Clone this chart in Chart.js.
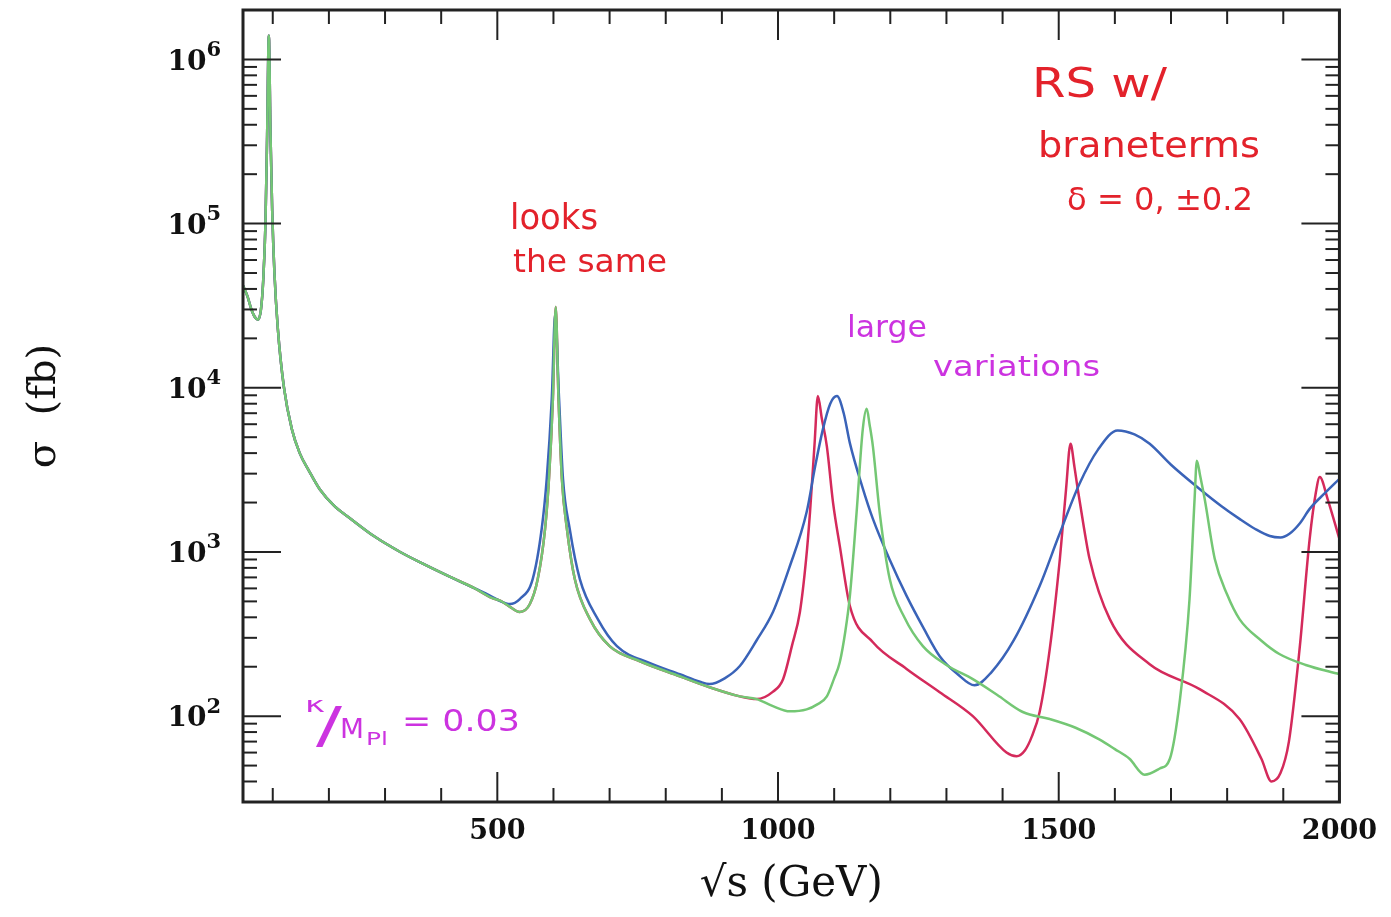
<!DOCTYPE html>
<html>
<head>
<meta charset="utf-8">
<title>RS w/ brane terms</title>
<script src="https://cdn.jsdelivr.net/npm/chart.js@4.4.1/dist/chart.umd.min.js"></script>
<style>
  html, body { margin: 0; padding: 0; background: #fff; }
  #chart { display: block; }
</style>
</head>
<body>
<canvas id="chart" width="1391" height="917"></canvas>
<script>
// sigma (fb) vs sqrt(s) (GeV)

// Z peak and 1/s fall-off, identical for all three curves
const sharedX = [47, 55, 62, 68, 74, 79, 83, 87, 90, 93, 96, 99, 103, 109, 120, 134, 148, 165, 184, 210, 238, 280, 327, 370, 416, 460];
const sharedY = [4.2e4, 3.6e4, 3.0e4, 2.7e4, 2.6e4, 3.0e4, 4.5e4, 1.0e5, 3.5e5, 1.4e6, 3.5e5, 1.2e5, 5.0e4, 2.3e4, 1.0e4, 5600, 4000, 3100, 2400, 1900, 1600, 1250, 1000, 840, 705, 600];

// red curve
const redX = [490, 505, 520, 540, 558, 572, 585, 592, 599, 604, 609, 615, 624, 638, 665, 700, 754, 825, 878, 932, 962, 990, 1009, 1025, 1039, 1050, 1057, 1065, 1071, 1078, 1087, 1098, 1110, 1128, 1169, 1229, 1288, 1347, 1407, 1425, 1440, 1452, 1466, 1484, 1502, 1513, 1521, 1528, 1534, 1545, 1555, 1591, 1662, 1751, 1822, 1861, 1879, 1895, 1910, 1929, 1947, 1958, 1965, 1979, 2000];
const redY = [525, 505, 470, 431, 482, 684, 1380, 2790, 8570, 3.1e4, 8570, 2790, 1380, 684, 390, 267, 216, 175, 150, 132, 127, 140, 168, 270, 431, 900, 1750, 4500, 8900, 6500, 4400, 2000, 1090, 469, 282, 194, 140, 100, 60, 57, 62, 75, 106, 256, 906, 2400, 4560, 3300, 2400, 1400, 906, 390, 207, 146, 96, 55, 40, 45, 70, 256, 1200, 2300, 2860, 2100, 1200];

// blue curve
const blueX = [490, 505, 522, 540, 563, 579, 588, 597, 603, 610, 617, 629, 647, 679, 713, 772, 825, 861, 878, 905, 932, 962, 991, 1020, 1051, 1066, 1080, 1093, 1105, 1117, 1128, 1150, 1169, 1200, 1229, 1260, 1288, 1320, 1350, 1380, 1420, 1466, 1500, 1537, 1570, 1605, 1635, 1662, 1700, 1751, 1790, 1822, 1850, 1876, 1895, 1911, 1930, 1947, 1975, 2000];
const blueY = [535, 502, 482, 517, 684, 1380, 2790, 8570, 2.8e4, 8570, 2790, 1380, 684, 390, 267, 210, 180, 162, 157, 170, 202, 290, 431, 800, 1750, 3300, 5600, 8000, 8900, 7000, 4600, 2500, 1590, 880, 540, 340, 232, 180, 154, 185, 290, 620, 1250, 2600, 4200, 5500, 5200, 4560, 3400, 2420, 1900, 1590, 1380, 1250, 1225, 1290, 1500, 1830, 2300, 2790];

// green curve
const greenX = [490, 505, 520, 540, 558, 572, 585, 592, 599, 604, 609, 615, 624, 638, 665, 700, 754, 825, 878, 932, 962, 991, 1021, 1051, 1070, 1087, 1100, 1110, 1120, 1128, 1140, 1151, 1158, 1163, 1169, 1181, 1199, 1225, 1258, 1300, 1347, 1390, 1436, 1484, 1530, 1573, 1600, 1626, 1653, 1680, 1698, 1716, 1733, 1742, 1746, 1752, 1760, 1778, 1800, 1822, 1860, 1893, 1940, 2000];
const greenY = [525, 505, 470, 431, 482, 684, 1380, 2790, 8570, 3.1e4, 8570, 2790, 1380, 684, 390, 267, 216, 175, 150, 132, 127, 115, 107, 110, 118, 132, 170, 213, 330, 540, 1750, 5600, 7450, 6000, 4400, 1750, 684, 400, 267, 205, 168, 135, 106, 96, 85, 72, 63, 55, 44, 48, 55, 127, 517, 2100, 3600, 2900, 2100, 906, 550, 390, 290, 239, 205, 180];

// axes
const xTicks = [500, 1000, 1500, 2000];
const xMinorTicks = [100, 200, 300, 400, 600, 700, 800, 900, 1100, 1200, 1300, 1400, 1600, 1700, 1800, 1900];
const yTicks = [1e2, 1e3, 1e4, 1e5, 1e6];
const yTickExp = ['2', '3', '4', '5', '6'];

const RED = '#d42a5b';
const BLUE = '#3a63b8';
const GREEN = '#74c774';
const NOTE_RED = '#e3222b';
const NOTE_PINK = '#cc33e0';

function toPoints(xs, ys) {
  return xs.map((x, i) => ({ x: x, y: ys[i] }));
}

function yMinorTicks() {
  const out = [];
  for (let e = 1; e <= 6; e++) {
    for (let k = 2; k <= 9; k++) {
      const v = k * Math.pow(10, e);
      if (v > 30 && v < 2e6) out.push(v);
    }
  }
  return out;
}

// squeeze/stretch a handwritten-ish note to the width it has on the plot
function drawNote(ctx, text, x, base, width, size, color) {
  ctx.save();
  ctx.font = size + 'px "DejaVu Sans"';
  ctx.fillStyle = color;
  ctx.textAlign = 'left';
  ctx.textBaseline = 'alphabetic';
  const w = ctx.measureText(text).width;
  ctx.translate(x, base);
  ctx.scale(width / w, 1);
  ctx.fillText(text, 0, 0);
  ctx.restore();
}

const framePlugin = {
  id: 'frame',
  afterDraw(chart) {
    const { ctx, chartArea: a, scales } = chart;
    const x = scales.x, y = scales.y;
    ctx.save();
    ctx.strokeStyle = '#222';
    ctx.lineCap = 'butt';

    const seg = (x1, y1, x2, y2) => {
      ctx.beginPath();
      ctx.moveTo(x1, y1);
      ctx.lineTo(x2, y2);
      ctx.stroke();
    };

    // inward ticks on all four sides
    ctx.lineWidth = 2;
    xMinorTicks.forEach(v => {
      const px = x.getPixelForValue(v);
      seg(px, a.bottom, px, a.bottom - 14);
      seg(px, a.top, px, a.top + 14);
    });
    xTicks.forEach(v => {
      const px = x.getPixelForValue(v);
      seg(px, a.bottom, px, a.bottom - 30);
      seg(px, a.top, px, a.top + 30);
    });
    yMinorTicks().forEach(v => {
      const py = y.getPixelForValue(v);
      seg(a.left, py, a.left + 14, py);
      seg(a.right, py, a.right - 14, py);
    });
    yTicks.forEach(v => {
      const py = y.getPixelForValue(v);
      seg(a.left, py, a.left + 38, py);
      seg(a.right, py, a.right - 38, py);
    });

    ctx.lineWidth = 3;
    ctx.strokeRect(a.left, a.top, a.right - a.left, a.bottom - a.top);

    // 10^n labels
    ctx.fillStyle = '#111';
    ctx.textBaseline = 'middle';
    ctx.textAlign = 'left';
    yTicks.forEach((v, i) => {
      const py = y.getPixelForValue(v);
      ctx.font = 'bold 21px "DejaVu Serif"';
      const ew = ctx.measureText(yTickExp[i]).width;
      ctx.font = 'bold 28px "DejaVu Serif"';
      const bw = ctx.measureText('10').width;
      const right = a.left - 22;
      ctx.fillText('10', right - ew - bw, py + 3);
      ctx.font = 'bold 21px "DejaVu Serif"';
      ctx.fillText(yTickExp[i], right - ew, py - 9);
    });

    // notes
    drawNote(ctx, 'RS w/', 1032, 97, 135, 40, NOTE_RED);
    drawNote(ctx, 'braneterms', 1038, 157, 222, 36, NOTE_RED);
    drawNote(ctx, 'δ = 0, ±0.2', 1067, 210, 186, 32, NOTE_RED);
    drawNote(ctx, 'looks', 510, 229, 88, 36, NOTE_RED);
    drawNote(ctx, 'the same', 513, 272, 154, 32, NOTE_RED);
    drawNote(ctx, 'large', 847, 337, 80, 30, NOTE_PINK);
    drawNote(ctx, 'variations', 933, 376, 167, 28, NOTE_PINK);
    drawNote(ctx, 'κ', 305, 712, 20, 22, NOTE_PINK);
    drawNote(ctx, '/', 316, 742, 26, 50, NOTE_PINK);
    drawNote(ctx, 'M', 340, 738, 24, 26, NOTE_PINK);
    drawNote(ctx, 'Pl', 366, 745, 22, 17, NOTE_PINK);
    drawNote(ctx, '= 0.03', 402, 731, 118, 30, NOTE_PINK);

    ctx.restore();
  }
};

const ctx = document.getElementById('chart').getContext('2d');

// first dataset ends up on top, so green goes first
new Chart(ctx, {
  type: 'line',
  data: {
    datasets: [
      { label: 'green', data: toPoints(sharedX.concat(greenX), sharedY.concat(greenY)), borderColor: GREEN },
      { label: 'blue', data: toPoints(sharedX.concat(blueX), sharedY.concat(blueY)), borderColor: BLUE },
      { label: 'red', data: toPoints(sharedX.concat(redX), sharedY.concat(redY)), borderColor: RED }
    ]
  },
  options: {
    responsive: false,
    animation: false,
    layout: { padding: { left: 0, right: 51, top: 10, bottom: 0 } },
    elements: {
      point: { radius: 0 },
      line: { borderWidth: 2.5, cubicInterpolationMode: 'monotone', fill: false }
    },
    plugins: {
      legend: { display: false },
      tooltip: { enabled: false }
    },
    scales: {
      x: {
        type: 'linear',
        bounds: 'data',
        min: 47,
        max: 2000,
        grid: { display: false, drawTicks: false },
        border: { display: false },
        afterBuildTicks: s => { s.ticks = xTicks.map(v => ({ value: v })); },
        afterFit: s => { s.height = 115; },
        ticks: {
          padding: 14,
          maxRotation: 0,
          color: '#111',
          font: { family: 'DejaVu Serif', size: 27, weight: 'bold' },
          callback: v => String(v)
        },
        title: {
          display: true,
          text: '√s (GeV)',
          color: '#111',
          font: { family: 'DejaVu Serif', size: 42 },
          padding: { top: 0, bottom: 7 }
        }
      },
      y: {
        type: 'logarithmic',
        bounds: 'data',
        min: 30,
        max: 2e6,
        grid: { display: false, drawTicks: false },
        border: { display: false },
        ticks: { display: false },
        afterFit: s => { s.width = 243; },
        title: {
          display: true,
          text: 'σ  (fb)',
          color: '#111',
          font: { family: 'DejaVu Serif', size: 40 },
          padding: { top: 21, bottom: 0 }
        }
      }
    }
  },
  plugins: [framePlugin]
});
</script>
</body>
</html>
